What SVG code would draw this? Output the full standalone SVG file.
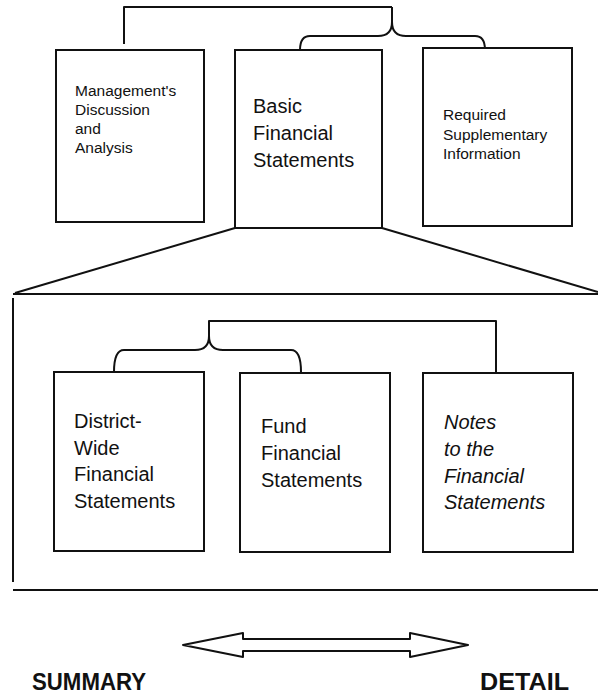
<svg xmlns="http://www.w3.org/2000/svg" width="598" height="695" viewBox="0 0 598 695">
<style>
.box{fill:#fff;stroke:#111;stroke-width:2}
.ln{fill:none;stroke:#111;stroke-width:2;stroke-linejoin:round;stroke-linecap:butt}
.sm{font-family:"Liberation Sans",Arial,sans-serif;font-size:15.5px;fill:#111}
.lg{font-family:"Liberation Sans",Arial,sans-serif;font-size:20px;fill:#111}
.it{font-style:italic}
.bd{font-family:"Liberation Sans",Arial,sans-serif;font-size:23px;font-weight:bold;fill:#111}
</style>
<rect width="598" height="695" fill="#fff"/>
<g id="connectors">
<path class="ln" d="M124,44 V7 H392"/>
<path class="ln" d="M392,7 V22 Q392,36 378,36 H310 Q300,36 300,50"/>
<path class="ln" d="M392,22 Q392,36 406,36 H475 Q485,36 485,50"/>
<path class="ln" d="M235,228 L15,293"/>
<path class="ln" d="M382,228 L598,292"/>
<path class="ln" d="M13,294 H598"/>
<path class="ln" d="M13,298 V582"/>
<path class="ln" d="M13,590 H598"/>
<path class="ln" d="M209,336 V321 H496 V373"/>
<path class="ln" d="M209,336 Q209,350 195,350 H124 Q114,350 114,372"/>
<path class="ln" d="M209,336 Q209,350 223,350 H291 Q301,350 301,372"/>
</g>
<g id="mda">
<rect class="box" x="56" y="50" width="148" height="172"/>
<text class="sm" x="75" y="96">Management's</text>
<text class="sm" x="75" y="115">Discussion</text>
<text class="sm" x="75" y="134">and</text>
<text class="sm" x="75" y="153">Analysis</text>
</g>
<g id="bfs">
<rect class="box" x="235" y="50" width="147" height="178"/>
<text class="lg" x="253" y="113">Basic</text>
<text class="lg" x="253" y="140">Financial</text>
<text class="lg" x="253" y="167">Statements</text>
</g>
<g id="rsi">
<rect class="box" x="423" y="48" width="149" height="178"/>
<text class="sm" x="443" y="120">Required</text>
<text class="sm" x="443" y="140">Supplementary</text>
<text class="sm" x="443" y="159">Information</text>
</g>
<g id="dwfs">
<rect class="box" x="54" y="372" width="150" height="179"/>
<text class="lg" x="74" y="428">District-</text>
<text class="lg" x="74" y="455">Wide</text>
<text class="lg" x="74" y="481">Financial</text>
<text class="lg" x="74" y="508">Statements</text>
</g>
<g id="ffs">
<rect class="box" x="240" y="373" width="150" height="179"/>
<text class="lg" x="261" y="433">Fund</text>
<text class="lg" x="261" y="460">Financial</text>
<text class="lg" x="261" y="487">Statements</text>
</g>
<g id="notes">
<rect class="box" x="423" y="373" width="150" height="179"/>
<text class="lg it" x="444" y="429">Notes</text>
<text class="lg it" x="444" y="456">to the</text>
<text class="lg it" x="444" y="483">Financial</text>
<text class="lg it" x="444" y="509">Statements</text>
</g>
<g id="scale">
<path class="ln" d="M183,645 L243,633 V639 H410 V633 L468,645 L410,657 V651 H243 V657 Z"/>
<text class="bd" x="32" y="690" textLength="114" lengthAdjust="spacingAndGlyphs">SUMMARY</text>
<text class="bd" x="480" y="690" textLength="89" lengthAdjust="spacingAndGlyphs">DETAIL</text>
</g>
</svg>
